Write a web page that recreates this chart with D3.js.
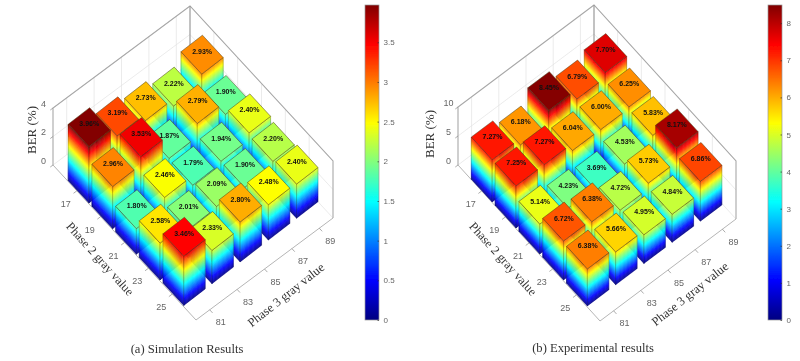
<!DOCTYPE html>
<html>
<head>
<meta charset="utf-8">
<script src="https://cdn.jsdelivr.net/npm/d3@7"></script>
<style>
html,body{margin:0;padding:0;background:#fff;}
svg{display:block;}
</style>
</head>
<body>
<svg id="chart" width="800" height="361" viewBox="0 0 800 361"></svg>
<script>
// ---- data ----
const phase2Values = [17, 19, 21, 23, 25];
const phase3Values = [81, 83, 85, 87, 89];
const simulationBer = [
  [3.96, 3.19, 2.73, 2.22, 2.93],
  [2.96, 3.53, 1.87, 2.79, 1.90],
  [1.80, 2.46, 1.79, 1.94, 2.40],
  [2.58, 2.01, 2.09, 1.90, 2.20],
  [3.46, 2.33, 2.80, 2.48, 2.40]
];
const experimentalBer = [
  [7.27, 6.18, 8.45, 6.79, 7.70],
  [7.25, 7.27, 6.04, 6.00, 6.25],
  [5.14, 4.23, 3.69, 4.53, 5.83],
  [6.72, 6.38, 4.72, 5.73, 8.17],
  [6.38, 5.66, 4.95, 4.84, 6.86]
];
const simZTicks = [0, 2, 4];
const expZTicks = [0, 5, 10];
const simBarTicks = [0, 0.5, 1, 1.5, 2, 2.5, 3, 3.5];
const expBarTicks = [0, 1, 2, 3, 4, 5, 6, 7, 8];
const jetStops = [[0,"#000080"],[0.125,"#0000ff"],[0.375,"#00ffff"],[0.625,"#ffff00"],[0.875,"#ff0000"],[1,"#800000"]];

// ---- layout ----
const panels = [
  { values: simulationBer, zTicks: simZTicks, zMax: 4, cMax: 3.97, barTicks: simBarTicks,
    L:[53,165], F:[196,320], R:[333,218], zPx:57, barX:365, berX:31, berY:130,
    origin:[89.3,183.6], rowVec:[23.7,25.6], colVec:[28.2,-21.8],
    caption:"(a) Simulation Results", capX:187, capY:349,
    p2Title:[100,259,48], p3Title:[286,295,-38.5] },
  { values: experimentalBer, zTicks: expZTicks, zMax: 10, cMax: 8.49, barTicks: expBarTicks,
    L:[458,165], F:[600,321], R:[736,219], zPx:58, barX:768, berX:429, berY:134,
    origin:[492.5,182.5], rowVec:[23.8,26], colVec:[28.25,-21.2],
    caption:"(b) Experimental results", capX:593, capY:348,
    p2Title:[503,259,48], p3Title:[690,294,-38.5] }
];
const serif = "'Liberation Serif','Times New Roman',serif";
const sans = "'Liberation Sans',Arial,sans-serif";
const tickGrey = "#666";
const barWU = 0.875, barWV = 0.76;

const svg = d3.select("#chart");
const defs = svg.append("defs");
defs.append("filter").attr("id","soft").attr("x","-2%").attr("y","-2%").attr("width","104%").attr("height","104%")
  .append("feGaussianBlur").attr("stdDeviation",0.55);
svg.append("rect").attr("width",800).attr("height",361).attr("fill","#fff");
const root = svg.append("g").attr("filter","url(#soft)");

panels.forEach((p, pi) => {
  const g = root.append("g");
  const uScale = d3.scaleLinear().domain([0,6]).range([0,1]);
  const vScale = d3.scaleLinear().domain([0.5,5.5]).range([0,1]);
  const zScale = d3.scaleLinear().domain([0,p.zMax]).range([0,-p.zPx]);
  const color = d3.scaleLinear().domain(jetStops.map(s=>s[0]*p.cMax)).range(jetStops.map(s=>s[1])).clamp(true);
  // box projection
  const proj = (a,b,z) => {
    const u = uScale(a), v = vScale(b);
    return [
      p.L[0] + u*(p.F[0]-p.L[0]) + v*(p.R[0]-p.F[0]),
      p.L[1] + u*(p.F[1]-p.L[1]) + v*(p.R[1]-p.F[1]) + zScale(z)
    ];
  };
  // bar projection (a, b in 1..5 grid units)
  const barProj = (a,b,z) => [
    p.origin[0] + (a-1)*p.rowVec[0] + (b-1)*p.colVec[0],
    p.origin[1] + (a-1)*p.rowVec[1] + (b-1)*p.colVec[1] + zScale(z)
  ];
  const line = (pts, col, w) => g.append("path")
    .attr("d", d3.line()(pts)).attr("fill","none").attr("stroke",col).attr("stroke-width",w);

  const A0=0,A1=6,B0=0.5,B1=5.5,Z=p.zMax;
  // wall grid
  const gridCol = "#e3e3e3";
  p.zTicks.forEach(t=>{
    line([proj(A0,B0,t),proj(A0,B1,t),proj(A1,B1,t)],gridCol,0.7);
  });
  phase3Values.forEach((_,j)=>line([proj(A0,j+1,0),proj(A0,j+1,Z)],gridCol,0.7));
  phase2Values.forEach((_,i)=>line([proj(i+1,B1,0),proj(i+1,B1,Z)],gridCol,0.7));
  // box
  const boxCol = "#a8a8a8";
  line([proj(A0,B0,0),proj(A0,B0,Z),proj(A0,B1,Z),proj(A1,B1,Z),proj(A1,B1,0)],boxCol,1.1);
  line([proj(A0,B1,0),proj(A0,B1,Z)],"#999",1.2);
  line([proj(A0,B0,0),proj(A1,B0,0),proj(A1,B1,0)],"#b5b5b5",1.0);

  // axis ticks
  phase2Values.forEach((_,i)=>line([proj(i+1,B0,0),proj(i+1,B0-0.12,0)],"#888",0.7));
  phase3Values.forEach((_,j)=>line([proj(A1,j+1,0),proj(A1+0.12,j+1,0)],"#888",0.7));
  p.zTicks.forEach(t=>line([proj(A0,B0,t),proj(A0,B0-0.1,t)],"#888",0.7));

  // bars: back to front
  const order = [];
  phase2Values.forEach((_,i)=>{ for(let j=phase3Values.length-1;j>=0;j--) order.push([i,j]); });
  order.forEach(([i,j])=>{
    const val = p.values[i][j];
    const a=i+1,b=j+1;
    const a0=a-barWU/2,a1=a+barWU/2,b0=b-barWV/2,b1=b+barWV/2;
    const bar = g.append("g");
    const nSlices = Math.ceil(-zScale(val));
    const levels = d3.range(nSlices).map(k=>[k/nSlices*val,(k+1)/nSlices*val]);
    const faces = [
      [[a0,b0],[a1,b0]],
      [[a1,b0],[a1,b1]]
    ];
    faces.forEach(([s,e])=>{
      bar.append("g").selectAll("path").data(levels).join("path")
        .attr("d",l=>d3.line()([barProj(s[0],s[1],l[0]),barProj(e[0],e[1],l[0]),barProj(e[0],e[1],l[1]),barProj(s[0],s[1],l[1])])+"Z")
        .attr("fill",l=>color((l[0]+l[1])/2))
        .attr("stroke",l=>color((l[0]+l[1])/2))
        .attr("stroke-width",0.4);
      bar.append("path")
        .attr("d",d3.line()([barProj(s[0],s[1],0),barProj(s[0],s[1],val),barProj(e[0],e[1],val),barProj(e[0],e[1],0)]))
        .attr("fill","none").attr("stroke","rgba(50,50,30,0.38)").attr("stroke-width",0.7);
    });
    bar.append("path")
      .attr("d",d3.line()([barProj(a0,b0,val),barProj(a1,b0,val),barProj(a1,b1,val),barProj(a0,b1,val)])+"Z")
      .attr("fill",color(val))
      .attr("stroke","rgba(70,60,20,0.62)").attr("stroke-width",0.8);
  });
  // value labels on top of the bars
  order.forEach(([i,j])=>{
    const val = p.values[i][j];
    const c = barProj(i+1,j+1,val);
    g.append("text").attr("x",c[0]).attr("y",c[1]-3.5)
      .attr("text-anchor","middle").attr("dominant-baseline","central")
      .attr("font-family",sans).attr("font-size",7).attr("font-weight","bold").attr("fill","#111")
      .text(val.toFixed(2)+"%");
  });

  // tick labels
  const tick = (x,y,t)=>g.append("text").attr("x",x).attr("y",y)
    .attr("text-anchor","middle").attr("dominant-baseline","central")
    .attr("font-family",sans).attr("font-size",9).attr("fill",tickGrey).text(t);
  phase2Values.forEach((t,i)=>{const q=proj(i+1,B0,0);tick(q[0]-11,q[1]+13,t);});
  phase3Values.forEach((t,j)=>{const q=proj(A1,j+1,0);tick(q[0]+11,q[1]+12.5,t);});
  p.zTicks.forEach(t=>{const q=proj(A0,B0,t);tick(q[0]-9.5,q[1]-4.5,t);});

  // axis titles
  const title=(x,y,rot,t,fs)=>g.append("text")
    .attr("transform",`translate(${x},${y}) rotate(${rot})`)
    .attr("text-anchor","middle").attr("dominant-baseline","central")
    .attr("font-family",serif).attr("font-size",fs).attr("fill","#333").text(t);
  title(p.p2Title[0],p.p2Title[1],p.p2Title[2],"Phase 2 gray value",12.5);
  title(p.p3Title[0],p.p3Title[1],p.p3Title[2],"Phase 3 gray value",12.5);
  title(p.berX,p.berY,-90,"BER (%)",13);
  g.append("text").attr("x",p.capX).attr("y",p.capY)
    .attr("text-anchor","middle").attr("dominant-baseline","central")
    .attr("font-family",serif).attr("font-size",12.6).attr("fill","#333").text(p.caption);

  // colour bar
  const gid="jet"+pi;
  defs.append("linearGradient").attr("id",gid).attr("x1",0).attr("x2",0).attr("y1",1).attr("y2",0)
    .selectAll("stop").data(jetStops).join("stop")
    .attr("offset",d=>d[0]).attr("stop-color",d=>d[1]);
  const barScale = d3.scaleLinear().domain([0,p.cMax]).range([320,5]);
  g.append("rect").attr("x",p.barX).attr("y",5).attr("width",14).attr("height",315)
    .attr("fill",`url(#${gid})`).attr("stroke","#999").attr("stroke-width",0.7);
  const ax = g.append("g").attr("transform",`translate(${p.barX+14},0)`)
    .call(d3.axisRight(barScale).tickValues(p.barTicks).tickFormat(d3.format("~g")).tickSize(-1.5).tickPadding(4.5));
  ax.select(".domain").remove();
  ax.selectAll("line").attr("stroke","#333").attr("stroke-width",0.7);
  ax.selectAll("text").attr("font-family",sans).attr("font-size",8).attr("fill",tickGrey);
});
</script>
</body>
</html>
